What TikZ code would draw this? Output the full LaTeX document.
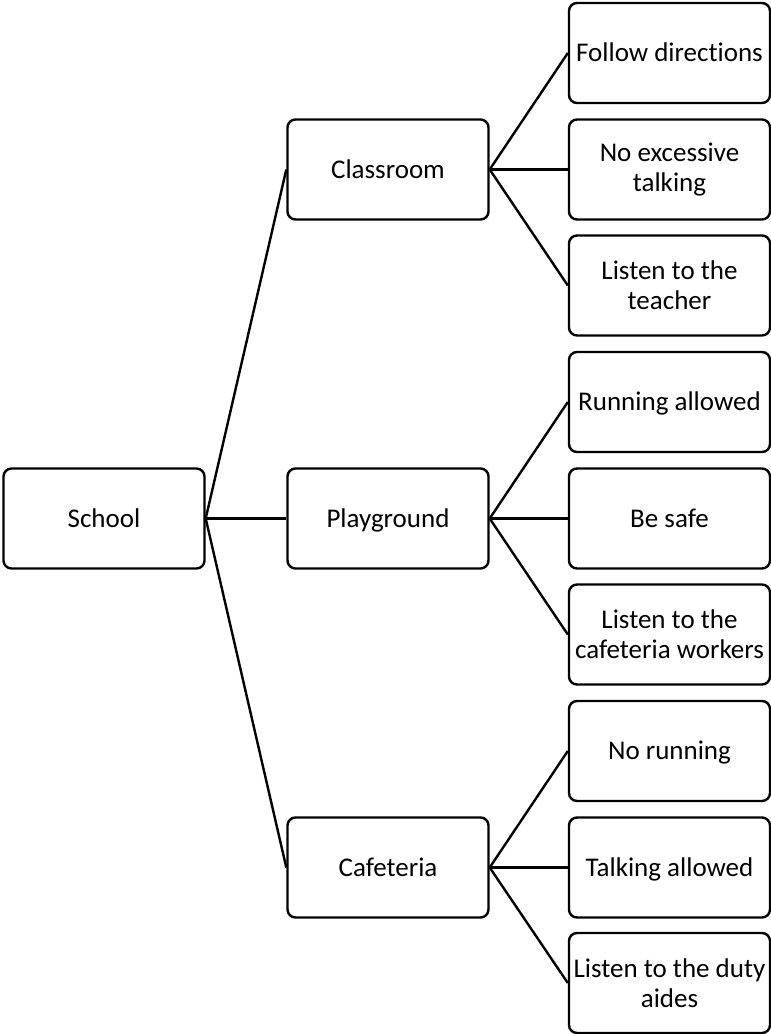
\documentclass[tikz,border=0pt]{standalone}
\usepackage{fontspec}
\setmainfont[Ligatures=NoCommon]{Carlito}
\begin{document}
\begin{tikzpicture}[x=1pt,y=-1pt,
  box/.style={draw=black, line width=2.4pt, rounded corners=8pt, rectangle,
    minimum width=201pt, minimum height=100pt, align=center, inner sep=0pt,
    font=\fontsize{27}{30}\selectfont},
  one/.style={text height=23pt, text depth=6pt},
  link/.style={draw=black, line width=2.4pt}]
\useasboundingbox (0,0) rectangle (771,1034);
\node[box,one] (school) at (104,518.5) {School};
\node[box,one] (class) at (388,169.5) {Classroom};
\node[box,one] (play) at (388,518.5) {Playground};
\node[box,one] (caf) at (388,867.5) {Cafeteria};
\node[box,one] (l1) at (669.5,53) {Follow directions};
\node[box] (l2) at (669.5,169.5) {No excessive\\talking};
\node[box] (l3) at (669.5,285.5) {Listen to the\\teacher};
\node[box,one] (l4) at (669.5,402) {Running allowed};
\node[box,one] (l5) at (669.5,518.5) {Be safe};
\node[box] (l6) at (669.5,634.5) {Listen to the\\cafeteria workers};
\node[box,one] (l7) at (669.5,751) {No running};
\node[box,one] (l8) at (669.5,867.5) {Talking allowed};
\node[box] (l9) at (669.5,983) {Listen to the duty\\aides};
\foreach \c in {class,play,caf} \draw[link] (school.east) -- (\c.west);
\foreach \c in {l1,l2,l3} \draw[link] (class.east) -- (\c.west);
\foreach \c in {l4,l5,l6} \draw[link] (play.east) -- (\c.west);
\foreach \c in {l7,l8,l9} \draw[link] (caf.east) -- (\c.west);
\end{tikzpicture}
\end{document}
